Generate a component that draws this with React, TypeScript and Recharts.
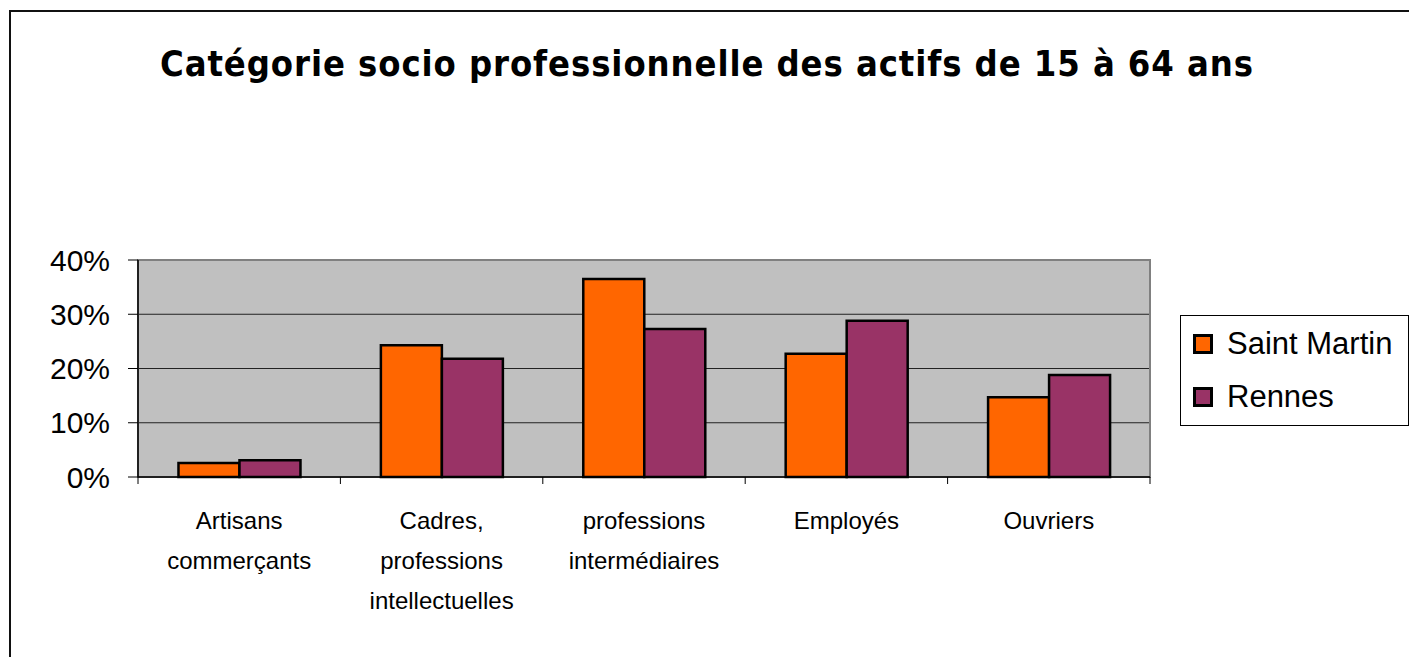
import { BarChart, Bar, XAxis, YAxis, CartesianGrid, ReferenceArea } from 'recharts';

const categories = [
  ['Artisans', 'commerçants'],
  ['Cadres,', 'professions', 'intellectuelles'],
  ['professions', 'intermédiaires'],
  ['Employés'],
  ['Ouvriers'],
];
const saintMartin = [0.026, 0.243, 0.365, 0.227, 0.147];
const rennes = [0.031, 0.218, 0.273, 0.288, 0.188];
const yTicks = [0, 0.1, 0.2, 0.3, 0.4];
const seriesNames = ['Saint Martin', 'Rennes'];
const seriesColors = ['#FF6600', '#993366'];

const data = categories.map((lines, i) => ({
  name: lines.join(' '),
  lines,
  saintMartin: saintMartin[i],
  rennes: rennes[i],
}));

const W = 1409;
const H = 657;
const PLOT_LEFT = 138;
const PLOT_RIGHT = 1150;
const PLOT_TOP = 260;
const PLOT_BOTTOM = 477;
const bandWidth = (PLOT_RIGHT - PLOT_LEFT) / categories.length;

function CategoryTick(props: any) {
  const { x, index, payload } = props;
  const lines: string[] = data[index]?.lines ?? [String(payload.value)];
  const half = bandWidth / 2;
  return (
    <g>
      <line x1={x - half} x2={x - half} y1={PLOT_BOTTOM} y2={PLOT_BOTTOM + 7} stroke="#000" strokeWidth={1} />
      {index === categories.length - 1 && (
        <line x1={x + half} x2={x + half} y1={PLOT_BOTTOM} y2={PLOT_BOTTOM + 7} stroke="#000" strokeWidth={1} />
      )}
      <text x={x} y={PLOT_BOTTOM + 52} textAnchor="middle" fill="#000" fontSize={24} fontFamily="Liberation Sans, Arial, sans-serif">
        {lines.map((l, i) => (
          <tspan key={i} x={x} dy={i === 0 ? 0 : 40}>{l}</tspan>
        ))}
      </text>
    </g>
  );
}

export default function App() {
  return (
    <div style={{ position: 'absolute', left: 0, top: 0, width: W, height: H, overflow: 'hidden', background: '#fff' }}>
      <div style={{ position: 'absolute', left: 9, top: 10, width: 1600, height: 900, borderLeft: '2px solid #111', borderTop: '2px solid #111' }} />
      <svg width={W} height={110} style={{ position: 'absolute', left: 0, top: 0 }}>
        <text x={160} y={76} textLength={1093} lengthAdjust="spacing" fontSize={36} fontWeight="bold" fontFamily="'DejaVu Sans Condensed', 'Liberation Sans', Arial, sans-serif" fill="#000">
          Catégorie socio professionnelle des actifs de 15 à 64 ans
        </text>
      </svg>
      <div style={{ position: 'absolute', left: 0, top: 0 }}>
        <BarChart
          width={W}
          height={H}
          data={data}
          margin={{ top: PLOT_TOP, right: W - PLOT_RIGHT, bottom: 0, left: 0 }}
          barCategoryGap="20%"
          barGap={0}
        >
          <CartesianGrid vertical={false} fill="#C0C0C0" fillOpacity={1} stroke="#222" horizontalValues={yTicks} />
          <ReferenceArea y1={0} y2={0.4} fill="none" stroke="#808080" strokeWidth={2} ifOverflow="visible" />
          <XAxis
            dataKey="name"
            height={H - PLOT_BOTTOM}
            axisLine={{ stroke: '#000', strokeWidth: 1.5 }}
            tickLine={false}
            interval={0}
            tick={<CategoryTick />}
          />
          <YAxis
            width={PLOT_LEFT}
            domain={[0, 0.4]}
            ticks={yTicks}
            interval={0}
            tickFormatter={(v: number) => `${Math.round(v * 100)}%`}
            axisLine={{ stroke: '#000', strokeWidth: 1.5 }}
            tickLine={{ stroke: '#000' }}
            tickSize={10}
            tickMargin={18}
            tick={{ fill: '#000', fontSize: 30, fontFamily: 'Liberation Sans, Arial, sans-serif' }}
          />
          <Bar dataKey="saintMartin" name={seriesNames[0]} fill={seriesColors[0]} stroke="#000" strokeWidth={2.5} isAnimationActive={false} />
          <Bar dataKey="rennes" name={seriesNames[1]} fill={seriesColors[1]} stroke="#000" strokeWidth={2.5} isAnimationActive={false} />
        </BarChart>
      </div>
      <div style={{ position: 'absolute', left: 1180, top: 315, width: 227, height: 109, border: '1px solid #000', background: '#fff', fontFamily: 'Liberation Sans, Arial, sans-serif', fontSize: 31, color: '#000' }}>
        {seriesNames.map((n, i) => (
          <div key={n} style={{ position: 'absolute', left: 12, top: i === 0 ? 10 : 63, display: 'flex', alignItems: 'center', height: 36, whiteSpace: 'nowrap' }}>
            <div style={{ width: 14, height: 14, border: '3px solid #000', background: seriesColors[i], marginRight: 14 }} />
            <span>{n}</span>
          </div>
        ))}
      </div>
    </div>
  );
}
